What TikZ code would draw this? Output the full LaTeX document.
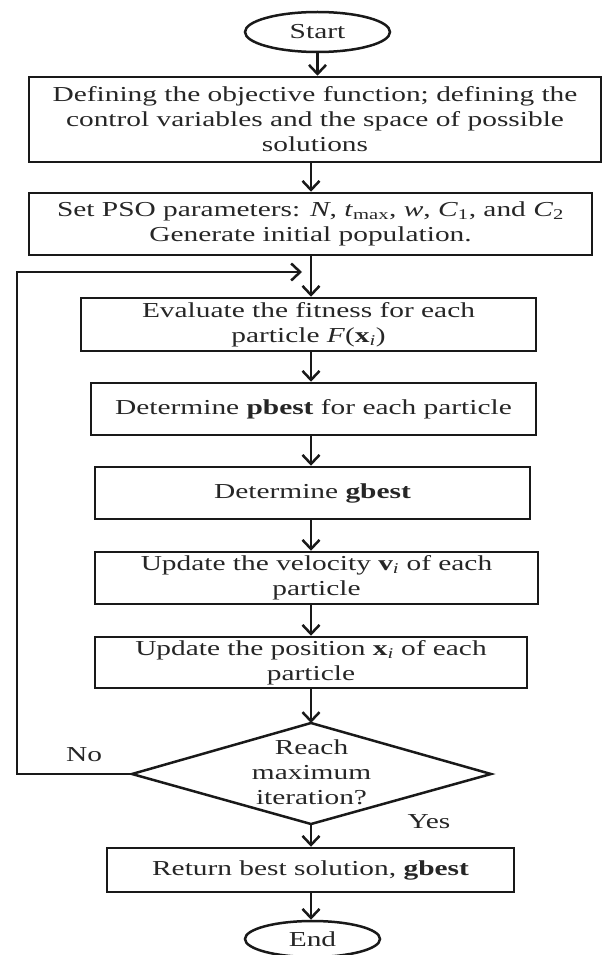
\documentclass[tikz,border=0pt]{standalone}
\usepackage{fontspec}
\setmainfont{Liberation Serif}[FakeStretch=1.38]
\usetikzlibrary{arrows.meta,shapes.geometric}
\begin{document}
\begin{tikzpicture}[x=1pt,y=-1pt,
  txt/.style={font=\fontsize{21.3}{25}\selectfont, text=black!85, align=center},
  procbox/.style={txt, draw=black!90, line width=2.5pt, inner sep=0pt},
  term/.style={txt, ellipse, draw=black!90, line width=2.5pt, inner sep=0pt},
  flow/.style={draw=black!90, line width=2.5pt, -{Straight Barb[length=9pt,width=17pt]}},
  edge/.style={draw=black!90, line width=2.5pt, line join=miter}]
\useasboundingbox (0,0) rectangle (602,955);
\coordinate (ax) at (311,0);

\node[term, minimum width=145pt, minimum height=40pt] (start) at (317.5,32) {Start};
\node[procbox, minimum width=572pt, minimum height=85pt] (b1) at (315,119.5)
  {Defining the objective function; defining the\\control variables and the space of possible\\solutions};
\node[procbox, minimum width=563pt, minimum height=62pt] (b2) at (310.5,224)
  {Set PSO parameters: \textit{N}, \textit{t}\textsubscript{max}, \textit{w}, \textit{C}\textsubscript{1}, and \textit{C}\textsubscript{2}\\Generate initial population.};
\node[procbox, minimum width=455pt, minimum height=53pt] (b3) at (308.5,324.5)
  {Evaluate the fitness for each\\particle \textit{F}(\textbf{x}\textsubscript{\textit{i}})};
\node[procbox, minimum width=445pt, minimum height=52pt] (b4) at (313.5,409)
  {Determine \textbf{pbest} for each particle};
\node[procbox, minimum width=435pt, minimum height=52pt] (b5) at (312.5,493)
  {Determine \textbf{gbest}};
\node[procbox, minimum width=443pt, minimum height=52pt] (b6) at (316.5,578)
  {Update the velocity \textbf{v}\textsubscript{\textit{i}} of each\\particle};
\node[procbox, minimum width=432pt, minimum height=51pt] (b7) at (311,662.5)
  {Update the position \textbf{x}\textsubscript{\textit{i}} of each\\particle};

% decision diamond
\coordinate (dT) at (311,723);
\coordinate (dR) at (491,774);
\coordinate (dB) at (311,824);
\coordinate (dL) at (132,774);
\draw[edge] (dT) -- (dR) -- (dB) -- (dL) -- cycle;
\node[txt] (dec) at (311.5,772) {Reach\\maximum\\iteration?};

\node[procbox, minimum width=407pt, minimum height=44pt] (b8) at (310.5,870)
  {Return best solution, \textbf{gbest}};
\node[term, minimum width=135pt, minimum height=36pt] (end) at (312.5,939) {End};

\node[txt] (no) at (84,755) {No};
\node[txt] (yes) at (429,822) {Yes};

% connectors
\draw[flow] (start.south) -- (start.south |- b1.north);
\draw[flow] (b1.south -| ax) -- (b2.north -| ax);
\draw[flow] (b2.south -| ax) -- (b3.north -| ax);
\draw[flow] (b3.south -| ax) -- (b4.north -| ax);
\draw[flow] (b4.south -| ax) -- (b5.north -| ax);
\draw[flow] (b5.south -| ax) -- (b6.north -| ax);
\draw[flow] (b6.south -| ax) -- (b7.north -| ax);
\draw[flow] (b7.south -| ax) -- (dT);
\draw[flow] (dB) -- (b8.north -| ax);
\draw[flow] (b8.south -| ax) -- (end.north -| ax);

\coordinate (lp) at (17,272);
\coordinate (mj) at (302,272);
\draw[flow] (dL) -| (lp) -- (mj);
\end{tikzpicture}
\end{document}
